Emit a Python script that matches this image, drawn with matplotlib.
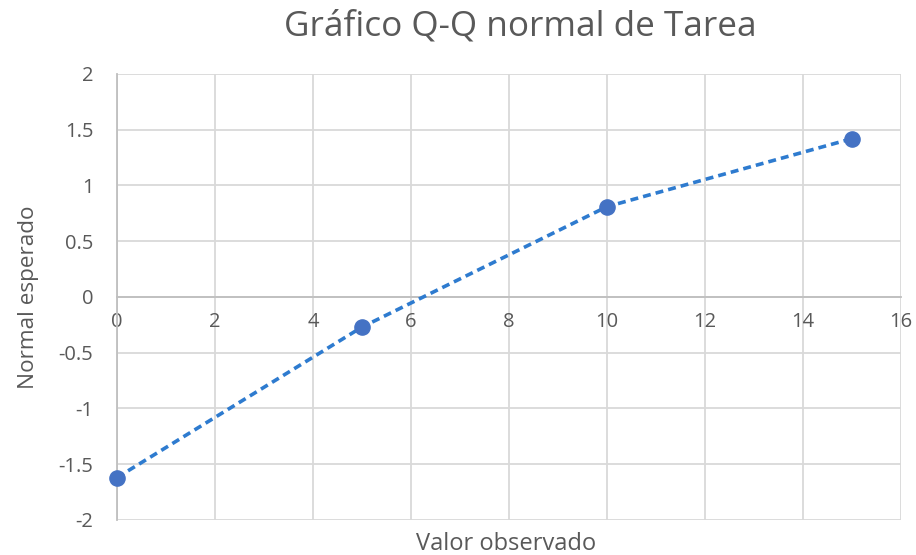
import matplotlib
matplotlib.use("Agg")
import matplotlib.pyplot as plt

observed = [0, 5, 10, 15]
expected = [-1.62, -0.27, 0.81, 1.42]
x_ticks = [0, 2, 4, 6, 8, 10, 12, 14, 16]
y_ticks = [-2, -1.5, -1, -0.5, 0, 0.5, 1, 1.5, 2]
y_labels = ["-2", "-1.5", "-1", "-0.5", "0", "0.5", "1", "1.5", "2"]

plt.rcParams['font.family'] = ['Open Sans', 'DejaVu Sans']
txt = '#595959'
grid = '#d9d9d9'

fig = plt.figure(figsize=(9.16, 5.55), dpi=100)
ax = fig.add_axes([0.1277, 0.0631, 0.8559, 0.8036])
ax.set_xlim(0, 16)
ax.set_ylim(-2, 2)
ax.set_xticks(x_ticks)
ax.set_yticks(y_ticks)
ax.set_yticklabels(y_labels)
ax.grid(True, color=grid, linewidth=1.3)
ax.set_axisbelow(True)
for s in ['top', 'right']:
    ax.spines[s].set_visible(False)
ax.spines['left'].set_color('#bfbfbf')
ax.spines['left'].set_linewidth(1.3)
ax.spines['bottom'].set_position(('data', 0))
ax.spines['bottom'].set_color('#bfbfbf')
ax.spines['bottom'].set_linewidth(1.3)
ax.tick_params(length=0, labelsize=14.5, labelcolor=txt)
ax.tick_params(axis='x', pad=11)
ax.tick_params(axis='y', pad=17)

ax.plot(observed, expected, linestyle=(0, (2.2, 1.4)), color='#2e7bcf', linewidth=2.6, zorder=3)
ax.scatter(observed, expected, s=120, color='#4472c4', zorder=4, clip_on=False)

fig.text(0.568, 0.953, "Gráfico Q-Q normal de Tarea", ha='center', va='center', fontsize=25.3, color=txt)
fig.text(0.553, 0.020, "Valor observado", ha='center', va='center', fontsize=17, color=txt)
fig.text(0.031, 0.465, "Normal esperado", ha='center', va='center', rotation=90, fontsize=16.2, color=txt)

fig.savefig("out.png", dpi=100, facecolor='white')
